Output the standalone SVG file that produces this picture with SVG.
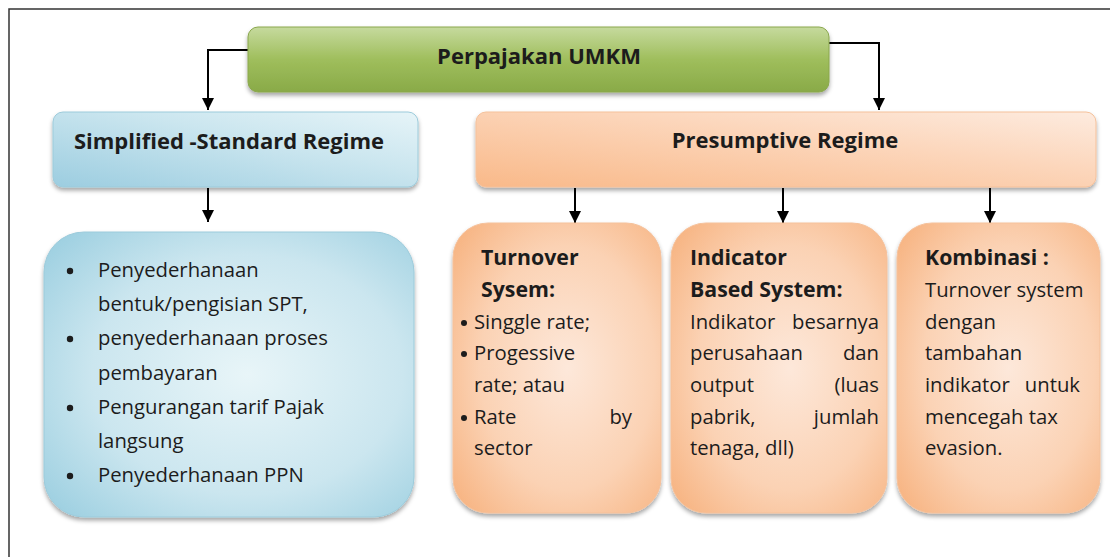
<svg xmlns="http://www.w3.org/2000/svg" width="1110" height="557" viewBox="0 0 1110 557">
<defs>
<style>
text{font-family:"Open Sans","Liberation Sans",sans-serif;fill:#1c1c1c;font-size:20.3px}
.b{font-weight:bold;font-size:21.3px}
.h{font-weight:bold;font-size:22px}
.con{fill:none;stroke:#000;stroke-width:2}
</style>
<filter id="sh" x="-10%" y="-10%" width="120%" height="130%">
<feDropShadow dx="0" dy="3" stdDeviation="2" flood-color="#000" flood-opacity="0.35"/>
</filter>
<linearGradient id="gGreen" x1="0" y1="0" x2="0" y2="1">
<stop offset="0" stop-color="#c6da9e"/>
<stop offset="0.5" stop-color="#9fbe5c"/>
<stop offset="1" stop-color="#89aa48"/>
</linearGradient>
<linearGradient id="gBlue" x1="0" y1="1" x2="1" y2="0">
<stop offset="0" stop-color="#9ccde0"/>
<stop offset="0.6" stop-color="#cbe6ef"/>
<stop offset="1" stop-color="#e6f4f8"/>
</linearGradient>
<linearGradient id="gOrange" x1="0" y1="1" x2="1" y2="0">
<stop offset="0" stop-color="#f9b989"/>
<stop offset="0.6" stop-color="#fcd6bb"/>
<stop offset="1" stop-color="#fdebdf"/>
</linearGradient>
<radialGradient id="rBlue" cx="0.55" cy="0.5" r="0.7">
<stop offset="0" stop-color="#e8f5f8"/>
<stop offset="0.6" stop-color="#cbe6ef"/>
<stop offset="1" stop-color="#9ed0e1"/>
</radialGradient>
<radialGradient id="rOrange" cx="0.55" cy="0.5" r="0.7">
<stop offset="0" stop-color="#fde8da"/>
<stop offset="0.6" stop-color="#fbd2b4"/>
<stop offset="1" stop-color="#f7b482"/>
</radialGradient>
<marker id="ah" viewBox="0 0 10 10" refX="10" refY="5" markerWidth="6" markerHeight="6" orient="auto" markerUnits="strokeWidth">
<path d="M0,0 L10,5 L0,10 Z" fill="#000"/>
</marker>
</defs>
<rect x="9" y="9" width="1200" height="600" fill="#fff" stroke="#333" stroke-width="1.5"/>

<g id="connectors">
<path class="con" d="M248,50 H208 V110" marker-end="url(#ah)"/>
<path class="con" d="M829,43 H879 V110" marker-end="url(#ah)"/>
<path class="con" d="M208,188 V222" marker-end="url(#ah)"/>
<path class="con" d="M575,188 V223" marker-end="url(#ah)"/>
<path class="con" d="M783,188 V223" marker-end="url(#ah)"/>
<path class="con" d="M990,188 V223" marker-end="url(#ah)"/>
</g>

<g id="perpajakan">
<rect x="248" y="27" width="581" height="65" rx="10" fill="url(#gGreen)" stroke="#8aa74d" stroke-width="1" filter="url(#sh)"/>
<text class="h" x="539" y="64" text-anchor="middle">Perpajakan UMKM</text>
</g>

<g id="simplified">
<rect x="53" y="112" width="365" height="75" rx="10" fill="url(#gBlue)" stroke="#9ccbdb" stroke-width="1" filter="url(#sh)"/>
<text class="h" x="229" y="149" text-anchor="middle">Simplified -Standard Regime</text>
</g>

<g id="presumptive">
<rect x="476" y="112" width="620" height="75" rx="10" fill="url(#gOrange)" stroke="#f5c19b" stroke-width="1" filter="url(#sh)"/>
<text class="h" x="785" y="148" text-anchor="middle">Presumptive Regime</text>
</g>

<g id="simplified-items">
<rect x="44" y="232" width="370" height="285" rx="40" fill="url(#rBlue)" stroke="#9ccbdb" stroke-width="1" filter="url(#sh)"/>
<g fill="#1c1c1c">
<circle cx="70" cy="271" r="3.2"/>
<circle cx="70" cy="339" r="3.2"/>
<circle cx="70" cy="408" r="3.2"/>
<circle cx="70" cy="476" r="3.2"/>
</g>
<text x="98" y="277">Penyederhanaan</text>
<text x="98" y="311">bentuk/pengisian SPT,</text>
<text x="98" y="345">penyederhanaan proses</text>
<text x="98" y="380">pembayaran</text>
<text x="98" y="414">Pengurangan tarif Pajak</text>
<text x="98" y="448">langsung</text>
<text x="98" y="482">Penyederhanaan PPN</text>
</g>

<g id="turnover">
<rect x="453" y="223" width="208" height="290" rx="35" fill="url(#rOrange)" stroke="#f5c19b" stroke-width="1" filter="url(#sh)"/>
<text class="b" x="481" y="265">Turnover</text>
<text class="b" x="481" y="297">Sysem:</text>
<g fill="#1c1c1c">
<circle cx="464" cy="323" r="3"/>
<circle cx="464" cy="354" r="3"/>
<circle cx="464" cy="418" r="3"/>
</g>
<text x="474" y="329">Singgle rate;</text>
<text x="474" y="360">Progessive</text>
<text x="474" y="392">rate; atau</text>
<text y="424"><tspan x="474">Rate</tspan><tspan x="632" text-anchor="end">by</tspan></text>
<text x="474" y="455">sector</text>
</g>

<g id="indicator">
<rect x="671" y="223" width="216" height="290" rx="35" fill="url(#rOrange)" stroke="#f5c19b" stroke-width="1" filter="url(#sh)"/>
<text class="b" x="690" y="265">Indicator</text>
<text class="b" x="690" y="297">Based System:</text>
<text y="329"><tspan x="690">Indikator</tspan><tspan x="879" text-anchor="end">besarnya</tspan></text>
<text y="360"><tspan x="690">perusahaan</tspan><tspan x="879" text-anchor="end">dan</tspan></text>
<text y="392"><tspan x="690">output</tspan><tspan x="879" text-anchor="end">(luas</tspan></text>
<text y="424"><tspan x="690">pabrik,</tspan><tspan x="879" text-anchor="end">jumlah</tspan></text>
<text x="690" y="455">tenaga, dll)</text>
</g>

<g id="kombinasi">
<rect x="897" y="223" width="203" height="290" rx="35" fill="url(#rOrange)" stroke="#f5c19b" stroke-width="1" filter="url(#sh)"/>
<text class="b" x="925" y="265">Kombinasi :</text>
<text x="925" y="297">Turnover system</text>
<text x="925" y="329">dengan</text>
<text x="925" y="360">tambahan</text>
<text y="392"><tspan x="925">indikator</tspan><tspan x="1080" text-anchor="end">untuk</tspan></text>
<text x="925" y="424">mencegah tax</text>
<text x="925" y="455">evasion.</text>
</g>
</svg>
